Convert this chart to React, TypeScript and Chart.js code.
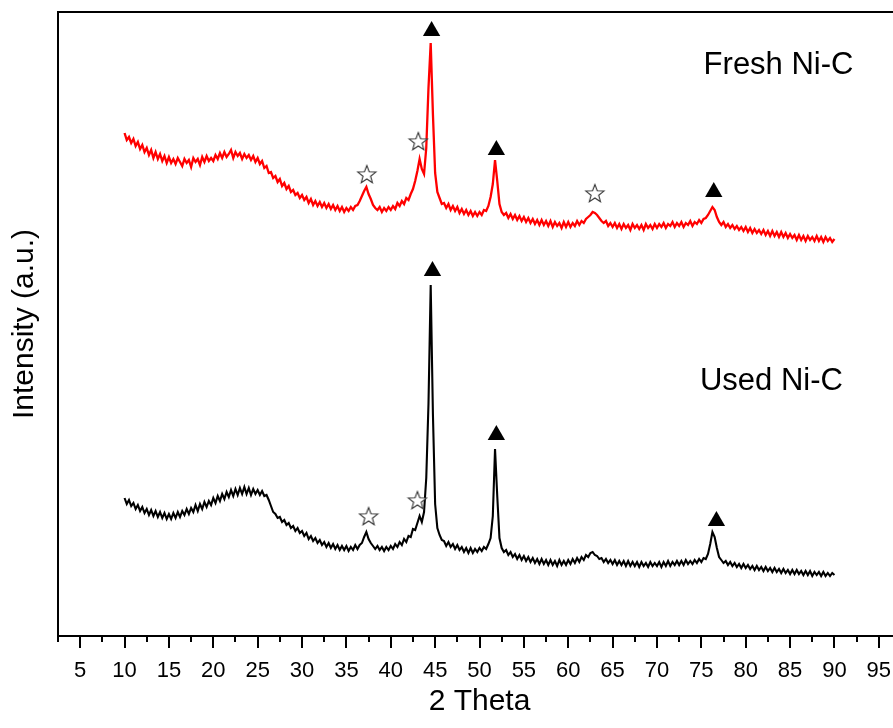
import React, { useEffect, useRef } from "react";
import { Chart, registerables } from "chart.js";

Chart.register(...registerables);

// 2θ measurement grid: starts at 10°, step 0.25°
const thetaStart = 10;
const thetaStep = 0.25;

// Fresh Ni-C intensities (a.u.), one per grid step from 10° to 90°
const freshIntensity = [
  503, 496, 499, 493, 497, 490, 494, 487, 491, 484, 488, 481, 486, 478, 484, 477, 482, 475, 480, 473,
  479, 473, 477, 472, 478, 474, 470, 477, 473, 476, 469, 478, 474, 477, 471, 479, 474, 480, 475, 478,
  475, 481, 477, 483, 478, 484, 479, 482, 486, 478, 484, 480, 483, 477, 482, 478, 481, 476, 480, 474,
  478, 472, 475, 468, 470, 463, 464, 458, 460, 454, 457, 450, 453, 447, 450, 444, 446, 441, 443, 438,
  441, 436, 439, 433, 437, 431, 435, 430, 434, 429, 433, 428, 432, 427, 431, 426, 430, 425, 429, 424,
  428, 425, 429, 426, 430, 431, 435, 440, 445, 449, 442, 437, 431, 428, 426, 429, 424, 428, 425, 429,
  426, 430, 427, 433, 430, 435, 432, 438, 436, 442, 447, 455, 465, 477, 467, 462, 488, 548, 593, 522,
  463, 444, 438, 432, 433, 428, 432, 426, 430, 425, 429, 423, 427, 422, 426, 421, 425, 420, 424, 420,
  424, 421, 426, 425, 430, 439, 452, 476, 455, 432, 424, 421, 423, 418, 422, 417, 421, 416, 420, 415,
  419, 414, 418, 413, 417, 412, 416, 411, 416, 411, 415, 410, 415, 409, 414, 410, 413, 408, 414, 409,
  414, 409, 413, 410, 415, 411, 415, 413, 417, 419, 421, 424, 423, 421, 418, 415, 413, 415, 410, 413,
  409, 413, 408, 412, 407, 412, 408, 411, 406, 412, 408, 411, 407, 411, 406, 412, 408, 411, 407, 412,
  408, 412, 409, 413, 408, 412, 410, 414, 409, 413, 410, 414, 409, 413, 411, 415, 410, 414, 412, 416,
  413, 417, 418, 421, 425, 429, 426, 419, 414, 411, 414, 409, 412, 408, 411, 407, 410, 406, 409, 405,
  409, 404, 408, 403, 407, 403, 406, 402, 406, 401, 405, 400, 405, 400, 404, 399, 404, 399, 403, 398,
  402, 398, 401, 396, 401, 396, 400, 395, 400, 396, 399, 395, 400, 395, 399, 394, 399, 395, 398, 394,
  397,
];

// Used Ni-C intensities (a.u.), same grid
const usedIntensity = [
  138, 132, 136, 130, 133, 127, 131, 125, 129, 123, 127, 121, 126, 120, 125, 119, 124, 118, 123, 117,
  122, 117, 123, 118, 124, 119, 125, 121, 127, 122, 128, 124, 131, 125, 132, 127, 134, 129, 135, 131,
  138, 133, 140, 135, 142, 137, 144, 139, 146, 140, 147, 141, 148, 142, 149, 142, 148, 141, 147, 142,
  146, 141, 145, 140, 141, 136, 130, 124, 122, 118, 119, 114, 116, 111, 113, 108, 110, 105, 108, 103,
  105, 100, 103, 97, 100, 95, 98, 93, 96, 91, 94, 89, 93, 88, 92, 87, 91, 86, 90, 86,
  90, 85, 89, 86, 91, 87, 91, 93, 99, 104, 97, 93, 90, 87, 90, 86, 89, 85, 89, 86,
  90, 87, 92, 89, 94, 91, 97, 94, 100, 99, 107, 106, 113, 120, 114, 124, 158, 232, 351, 222,
  132, 108, 101, 96, 95, 90, 94, 89, 92, 87, 91, 86, 89, 84, 88, 83, 88, 83, 87, 84,
  88, 85, 89, 87, 92, 98, 120, 187, 140, 98, 88, 84, 86, 81, 84, 79, 82, 77, 81, 76,
  80, 75, 79, 74, 78, 73, 77, 72, 77, 72, 76, 71, 76, 71, 75, 70, 76, 71, 75, 71,
  76, 72, 77, 73, 78, 74, 79, 76, 81, 79, 83, 84, 81, 80, 77, 78, 74, 77, 73, 76,
  72, 76, 71, 75, 71, 75, 70, 75, 70, 74, 70, 74, 69, 74, 70, 73, 69, 74, 70, 73,
  70, 74, 69, 74, 70, 75, 70, 74, 71, 75, 71, 75, 71, 76, 72, 75, 72, 76, 73, 77,
  74, 78, 77, 82, 92, 104, 99, 88, 79, 76, 73, 75, 71, 74, 70, 73, 69, 72, 68, 72,
  68, 71, 67, 70, 66, 70, 66, 69, 65, 69, 65, 68, 64, 68, 64, 67, 63, 67, 63, 66,
  62, 66, 62, 66, 62, 65, 61, 65, 61, 65, 60, 64, 61, 64, 60, 64, 60, 63, 60, 63,
  61,
];

// Peak markers (▲ = Ni, ☆ = other phase)
const niThetaFresh = [44.6, 51.9, 76.4];
const niMarkFresh = [605, 486, 444];
const starThetaFresh = [37.3, 43.1, 63.0];
const starMarkFresh = [462, 495, 443];
const niThetaUsed = [44.7, 51.9, 76.7];
const niMarkUsed = [365, 201, 115];
const starThetaUsed = [37.5, 43.0];
const starMarkUsed = [120, 136];

// Sample labels
const sampleLabels = ["Fresh Ni-C", "Used Ni-C"];
const labelTheta = [83.7, 82.9];
const labelIntensity = [571, 255];

// Axis ticks
const majorTicks = [5, 10, 15, 20, 25, 30, 35, 40, 45, 50, 55, 60, 65, 70, 75, 80, 85, 90, 95];
const minorTicks = [2.5, 7.5, 12.5, 17.5, 22.5, 27.5, 32.5, 37.5, 42.5, 47.5, 52.5, 57.5, 62.5, 67.5, 72.5, 77.5, 82.5, 87.5, 92.5, 97.5];
const xMin = 2.5;
const xMax = 97.5;
const yMin = 0;
const yMax = 624;

const FONT = "'Liberation Sans', Arial, Helvetica, sans-serif";

function makeStar(size: number) {
  const c = document.createElement("canvas");
  c.width = size;
  c.height = size;
  const g = c.getContext("2d")!;
  const cx = size / 2;
  const cy = size / 2 + 1;
  const R = size / 2 - 1.5;
  const r = R * 0.42;
  g.beginPath();
  for (let i = 0; i < 10; i++) {
    const a = -Math.PI / 2 + (i * Math.PI) / 5;
    const rad = i % 2 === 0 ? R : r;
    g.lineTo(cx + rad * Math.cos(a), cy + rad * Math.sin(a));
  }
  g.closePath();
  g.fillStyle = "#fff";
  g.fill();
  g.strokeStyle = "#333";
  g.lineWidth = 1.1;
  g.stroke();
  return c;
}

const framePlugin = {
  id: "frameAndLabels",
  afterDraw(chart: any) {
    const { ctx, chartArea, scales } = chart;
    const xs = scales.x;
    const ys = scales.y;
    ctx.save();
    ctx.strokeStyle = "#000";
    ctx.lineWidth = 2;
    ctx.strokeRect(chartArea.left, chartArea.top, chartArea.right - chartArea.left, chartArea.bottom - chartArea.top);
    ctx.beginPath();
    for (const v of minorTicks) {
      const px = Math.round(xs.getPixelForValue(v));
      ctx.moveTo(px, chartArea.bottom);
      ctx.lineTo(px, chartArea.bottom + 6);
    }
    ctx.stroke();
    ctx.fillStyle = "#000";
    ctx.font = `31px ${FONT}`;
    ctx.textAlign = "center";
    ctx.textBaseline = "middle";
    sampleLabels.forEach((t, i) => {
      ctx.fillText(t, xs.getPixelForValue(labelTheta[i]), ys.getPixelForValue(labelIntensity[i]));
    });
    ctx.restore();
  },
};

export default function App() {
  const ref = useRef<HTMLCanvasElement>(null);
  useEffect(() => {
    if (!ref.current) return;
    const theta = freshIntensity.map((_, i) => thetaStart + i * thetaStep);
    const star = makeStar(22);
    const chart = new Chart(ref.current, {
      type: "scatter",
      data: {
        datasets: [
          {
            label: "Ni fresh",
            data: niThetaFresh.map((x, i) => ({ x, y: niMarkFresh[i] })),
            pointStyle: "triangle",
            pointRadius: 10,
            backgroundColor: "#000",
            borderColor: "#000",
            borderWidth: 0,
            showLine: false,
            order: 0,
          },
          {
            label: "Ni used",
            data: niThetaUsed.map((x, i) => ({ x, y: niMarkUsed[i] })),
            pointStyle: "triangle",
            pointRadius: 10,
            backgroundColor: "#000",
            borderColor: "#000",
            borderWidth: 0,
            showLine: false,
            order: 0,
          },
          {
            label: "star fresh",
            data: starThetaFresh.map((x, i) => ({ x, y: starMarkFresh[i] })),
            pointStyle: star as any,
            pointRadius: 11,
            showLine: false,
            order: 0,
          },
          {
            label: "star used",
            data: starThetaUsed.map((x, i) => ({ x, y: starMarkUsed[i] })),
            pointStyle: star as any,
            pointRadius: 11,
            showLine: false,
            order: 0,
          },
          {
            label: "Fresh Ni-C",
            data: theta.map((x, i) => ({ x, y: freshIntensity[i] })),
            showLine: true,
            borderColor: "#ff0000",
            borderWidth: 2.3,
            pointRadius: 0,
            tension: 0,
            order: 1,
          },
          {
            label: "Used Ni-C",
            data: theta.map((x, i) => ({ x, y: usedIntensity[i] })),
            showLine: true,
            borderColor: "#000",
            borderWidth: 2.1,
            pointRadius: 0,
            tension: 0,
            order: 1,
          },
        ],
      },
      options: {
        animation: false,
        responsive: false,
        maintainAspectRatio: false,
        layout: { padding: { top: 12, right: 8, left: 0, bottom: 0 } },
        plugins: { legend: { display: false }, tooltip: { enabled: false } },
        scales: {
          x: {
            type: "linear",
            min: xMin,
            max: xMax,
            afterBuildTicks: (scale: any) => {
              scale.ticks = majorTicks.map((v) => ({ value: v }));
            },
            afterFit: (scale: any) => {
              scale.height = 92;
            },
            ticks: {
              autoSkip: false,
              maxRotation: 0,
              padding: 10,
              color: "#000",
              font: { family: FONT, size: 22 },
              callback: (v: any) => String(v),
            },
            grid: {
              display: true,
              drawOnChartArea: false,
              drawTicks: true,
              tickLength: 12,
              tickWidth: 2,
              tickColor: "#000",
              lineWidth: 2,
              color: "#000",
            },
            border: { display: false },
            title: {
              display: true,
              text: "2 Theta",
              color: "#000",
              font: { family: FONT, size: 30 },
              padding: { top: 0, bottom: 8 },
            },
          },
          y: {
            type: "linear",
            min: yMin,
            max: yMax,
            afterFit: (scale: any) => {
              scale.width = 58;
            },
            ticks: { display: false },
            grid: { display: false },
            border: { display: false },
            title: {
              display: true,
              text: "Intensity (a.u.)",
              color: "#000",
              font: { family: FONT, size: 30 },
              padding: { top: 7, bottom: 0 },
            },
          },
        },
      },
      plugins: [framePlugin],
    });
    return () => chart.destroy();
  }, []);
  return (
    <div
      style={{
        position: "fixed",
        left: 0,
        top: 0,
        width: 893,
        height: 728,
        overflow: "hidden",
        background: "#fff",
      }}
    >
      <canvas ref={ref} width={913} height={728} style={{ display: "block" }} />
    </div>
  );
}
